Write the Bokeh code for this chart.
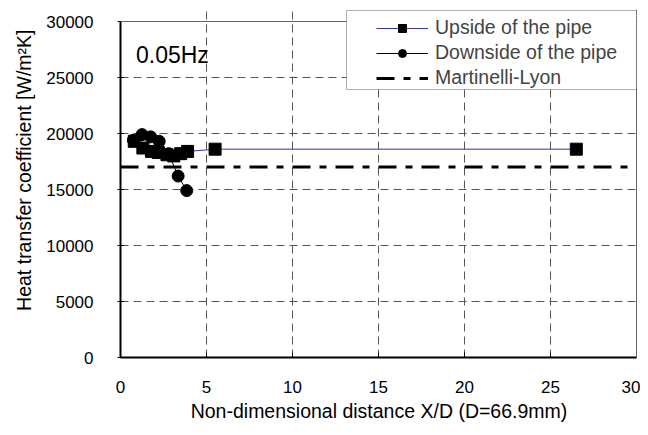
from bokeh.plotting import figure
from bokeh.models import Range1d, FixedTicker, Legend, LegendItem, Label, BoxAnnotation, Span, Title
from bokeh.embed import file_html
from bokeh.resources import INLINE

# Data
up_x = [0.8, 1.3, 1.8, 2.2, 2.7, 3.1, 3.5, 3.9, 5.5, 26.5]
up_y = [19300, 18700, 18400, 18300, 18100, 18000, 18200, 18400, 18600, 18600]
down_x = [0.75, 1.25, 1.75, 2.25, 2.8, 3.35, 3.85]
down_y = [19400, 19900, 19700, 19300, 18200, 16200, 14900]
ml_x = [0, 30]
ml_y = [17000, 17000]
x_ticks = [0, 5, 10, 15, 20, 25, 30]
y_ticks = [0, 5000, 10000, 15000, 20000, 25000, 30000]
X_MAX = 30
Y_MAX = 30000
FONT = "Liberation Sans"

W, H = 640, 430
FR_L, FR_R, FR_T, FR_B = 120, 637, 9, 357
y_top = Y_MAX * (FR_B - FR_T) / (FR_B - 21)      # room above 30000 for the legend
x_end = X_MAX * (FR_R - FR_L) / (636 - FR_L)

p = figure(width=W, height=H, output_backend="svg", toolbar_location=None,
           x_range=Range1d(0, x_end), y_range=Range1d(0, y_top),
           min_border_left=FR_L, min_border_right=W - FR_R, min_border_top=FR_T,
           min_border_bottom=H - FR_B)
p.background_fill_color = "white"
p.border_fill_color = "white"
p.outline_line_color = None

for ax in (p.xaxis[0], p.yaxis[0]):
    ax.axis_line_color = "black"
    ax.axis_line_width = 2
    ax.major_tick_line_color = "black"
    ax.major_tick_line_width = 1
    ax.minor_tick_line_color = None
    ax.major_label_text_font = FONT
    ax.major_label_text_font_size = "17px"
    ax.major_label_text_color = "black"
    ax.axis_label_text_font = FONT
    ax.axis_label_text_font_size = "19.5px"
    ax.axis_label_text_font_style = "normal"
    ax.axis_label_text_color = "black"

p.xaxis.ticker = FixedTicker(ticks=x_ticks)
p.yaxis.ticker = FixedTicker(ticks=y_ticks)
p.xaxis.bounds = (0, X_MAX)
p.yaxis.bounds = (0, Y_MAX)
p.xaxis.major_tick_in = 5
p.xaxis.major_tick_out = 0
p.xaxis.major_label_standoff = 23
p.xaxis.axis_label_standoff = 4
p.yaxis.major_tick_in = 3
p.yaxis.major_tick_out = 3
p.yaxis.major_label_standoff = 24
p.xaxis.axis_label = "Non-dimensional distance X/D (D=66.9mm)"

for g in (p.xgrid[0], p.ygrid[0]):
    g.grid_line_color = "#555555"
    g.grid_line_dash = "8 5"
    g.grid_line_width = 1
p.xgrid.ticker = FixedTicker(ticks=x_ticks)
p.ygrid.ticker = FixedTicker(ticks=y_ticks)
p.xgrid.bounds = (0, Y_MAX)
p.ygrid.bounds = (0, X_MAX)

# plot-area border (top and right)
p.add_layout(Span(location=Y_MAX, dimension="width", line_color="#666666", line_width=1))
p.add_layout(Span(location=X_MAX, dimension="height", line_color="#666666", line_width=1))

ml = p.line(ml_x, ml_y, line_color="black", line_width=3, line_dash="18 9 7 9")
ul = p.line(up_x, up_y, line_color="#3333aa", line_width=1)
us = p.scatter(up_x, up_y, marker="square", size=12, fill_color="black", line_color="black")
dl = p.line(down_x, down_y, line_color="black", line_width=1)
ds = p.scatter(down_x, down_y, marker="circle", size=12, fill_color="black", line_color="black")

p.add_layout(Label(x=0.9, y=27000, text="0.05Hz", text_font=FONT, text_font_size="23px",
                   text_baseline="middle", text_color="black"))

# y-axis title
p.add_layout(Title(text="Heat transfer coefficient [W/m²K]", align="right", offset=20,
                   standoff=17, text_font=FONT, text_font_size="19.5px",
                   text_font_style="normal", text_color="black"), "left")

box = BoxAnnotation(left=346, right=636, top=10, bottom=89,
                    left_units="canvas", right_units="canvas", top_units="canvas", bottom_units="canvas",
                    fill_color="white", fill_alpha=1, line_color="black", line_width=1, level="overlay")
p.add_layout(box)

legend = Legend(items=[LegendItem(label="Upside of the pipe", renderers=[ul, us]),
                       LegendItem(label="Downside of the pipe", renderers=[dl, ds]),
                       LegendItem(label="Martinelli-Lyon", renderers=[ml])],
                location=(256, 267), border_line_color=None, background_fill_alpha=0,
                label_text_font=FONT, label_text_font_size="19.5px", label_height=25,
                glyph_width=52, glyph_height=20, label_standoff=7, spacing=0, padding=2,
                margin=0, level="overlay")
p.add_layout(legend, "center")

open("out.html", "w").write(file_html(p, INLINE))
